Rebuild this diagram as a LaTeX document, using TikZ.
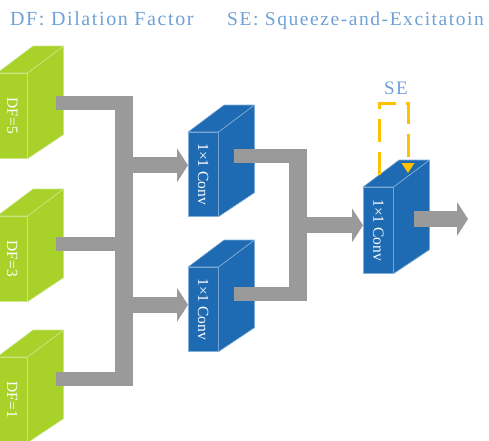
\documentclass[tikz,border=0pt]{standalone}
\usepackage{fontspec}
\setmainfont{Liberation Serif}
\newfontfamily\spacedfont[LetterSpace=8]{Liberation Serif}
\usepackage{graphicx}
\usetikzlibrary{arrows.meta,calc}

\definecolor{dfgreen}{HTML}{A8D12A}
\definecolor{convblue}{HTML}{1E6BB4}
\definecolor{bargray}{HTML}{999A99}
\definecolor{seorange}{HTML}{FFC000}
\definecolor{noteblue}{HTML}{6FA1D6}

\tikzset{
  face/.style={fill=#1, draw=#1!55!white, line width=0.6pt, line join=round},
  dfbox/.style={face=dfgreen, minimum width=30pt, minimum height=85pt, inner sep=0pt,
    anchor=north west, text=white, font=\fontsize{15.5}{18}\selectfont},
  convbox/.style={face=convblue, minimum width=30pt, minimum height=84pt, inner sep=0pt,
    anchor=north west, text=white, font=\fontsize{15.5}{18}\selectfont},
  bar/.style={draw=bargray, line width=14pt},
  trunk/.style={draw=bargray, line width=18pt},
  feed/.style={draw=bargray, line width=16pt, -{Triangle[width=34pt,length=11pt,line width=0pt]}},
  seloop/.style={draw=seorange, line width=3pt, dash pattern=on 23pt off 10pt,
    -{Triangle[width=13pt,length=10pt,line width=0pt]}},
  note/.style={text=noteblue, font=\spacedfont\fontsize{20}{23}\selectfont, inner sep=0pt},
}

\begin{document}
\begin{tikzpicture}[x=1pt, y=-1pt]
\useasboundingbox (0,0) rectangle (489,440);

% legend
\node[note, anchor=base west] (dfnote) at (10,25) {DF: Dilation Factor};
\node[note, font=\spacedfont\fontsize{19.5}{23}\selectfont, anchor=base west] (senote) at (227,25) {SE: Squeeze-and-Excitatoin};

% dilated branches
\node[dfbox] (df5) at (-3,73) {\rotatebox{-90}{DF=5}};
\node[dfbox] (df3) at (-3,216) {\rotatebox{-90}{DF=3}};
\node[dfbox] (df1) at (-3,357) {\rotatebox{-90}{DF=1}};

% 1x1 convolutions
\node[convbox] (conv1) at (188,132) {\rotatebox{-90}{1×1 Conv}};
\node[convbox] (conv2) at (188,267) {\rotatebox{-90}{1×1 Conv}};
\node[convbox, minimum height=86pt] (conv3) at (363,187) {\rotatebox{-90}{1×1 Conv}};

% top and side of every block
\foreach \n/\c in {df5/dfgreen, df3/dfgreen, df1/dfgreen, conv1/convblue, conv2/convblue, conv3/convblue}{
  \draw[face=\c] (\n.north west) -- ++(36,-27) -- ([shift={(36,-27)}]\n.north east) -- (\n.north east) -- cycle;
  \draw[face=\c] (\n.north east) -- ([shift={(36,-27)}]\n.north east) -- ([shift={(36,-24)}]\n.south east) -- (\n.south east) -- cycle;
}

% first merge
\coordinate (ja) at (124,103);
\coordinate (jb) at (124,244);
\coordinate (jc) at (124,379);
\draw[bar, shorten <=28pt] (ja -| df5.east) -- (ja);
\draw[bar, shorten <=28pt] (jb -| df3.east) -- (jb);
\draw[bar, shorten <=28pt] (jc -| df1.east) -- (jc);
\draw[trunk] ([yshift=7pt]ja) -- ([yshift=-7pt]jc);
\coordinate (in1) at ([yshift=9pt]conv1.west);
\coordinate (in2) at ([yshift=4.5pt]conv2.west);
\draw[feed] (ja |- in1) -- (in1);
\draw[feed] (ja |- in2) -- (in2);

% second merge
\coordinate (jd) at (298,156);
\coordinate (je) at (298,294);
\draw[bar, shorten <=15pt] (jd -| conv1.east) -- (jd);
\draw[bar, shorten <=15pt] (je -| conv2.east) -- (je);
\draw[trunk] ([yshift=7pt]jd) -- ([yshift=-7pt]je);
\coordinate (in3) at ([yshift=5pt]conv3.west);
\draw[feed] (jd |- in3) -- (in3);

% output
\coordinate (out) at (468,219);
\draw[feed, shorten <=20pt] (out -| conv3.east) -- (out);

% squeeze-and-excitation loop
\coordinate (sein) at ([shift={(16,-12)}]conv3.north west);
\coordinate (seout) at ([shift={(45,-14)}]conv3.north west);
\draw[seloop] (sein) -- ++(0,-72) -| (seout);
\node[note, font=\spacedfont\fontsize{19}{22}\selectfont, anchor=base] (selbl) at (396,94) {SE};
\end{tikzpicture}
\end{document}
